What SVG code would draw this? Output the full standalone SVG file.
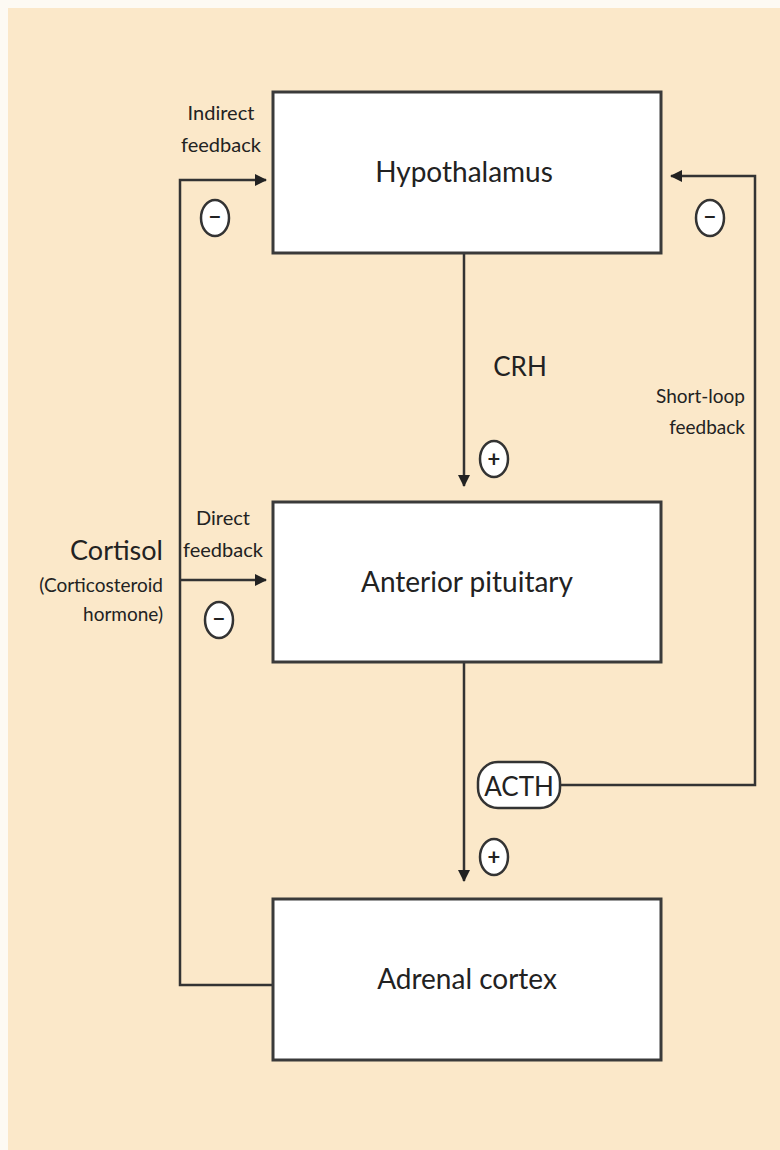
<svg xmlns="http://www.w3.org/2000/svg" width="780" height="1150" viewBox="0 0 780 1150">
<style>
text{font-family:Lato,"Liberation Sans",sans-serif;fill:#222}
.box{fill:#fff;stroke:#3a3a3a;stroke-width:3}
.ln{fill:none;stroke:#333;stroke-width:2.5}
.sig{fill:#fff;stroke:#333;stroke-width:2.5}
.lbl{font-size:28px;text-anchor:middle}
.sm{font-size:20px;text-anchor:middle}
.sign{font-size:22px;text-anchor:middle;font-weight:bold}
</style>
<defs>
<marker id="ah" markerWidth="12" markerHeight="12" refX="11" refY="6" orient="auto" markerUnits="userSpaceOnUse">
<path d="M0,0 L12,6 L0,12 z" fill="#222"/>
</marker>
</defs>
<rect x="0" y="0" width="780" height="1150" fill="#fdfaf3"/>
<rect x="8" y="8" width="772" height="1142" fill="#fbe8c9"/>
<g id="connectors">
<path class="ln" d="M273,985 H180 V180 H266" marker-end="url(#ah)"/>
<path class="ln" d="M180,580 H266" marker-end="url(#ah)"/>
<path class="ln" d="M464,254 V486" marker-end="url(#ah)"/>
<path class="ln" d="M464,663 V881" marker-end="url(#ah)"/>
<path class="ln" d="M560,785 H755 V176 H671" marker-end="url(#ah)"/>
</g>
<g id="hypothalamus"><rect class="box" x="273" y="92" width="388" height="161"/><text class="lbl" x="464" y="182">Hypothalamus</text></g>
<g id="anterior-pituitary"><rect class="box" x="273" y="502" width="388" height="160"/><text class="lbl" x="467" y="592">Anterior pituitary</text></g>
<g id="adrenal-cortex"><rect class="box" x="273" y="899" width="388" height="161"/><text class="lbl" x="467" y="989">Adrenal cortex</text></g>
<g id="acth"><rect class="sig" x="478" y="762" width="82" height="46" rx="20"/><text x="519" y="796" font-size="26" text-anchor="middle">ACTH</text></g>
<g id="crh"><text x="520" y="376" font-size="26" text-anchor="middle">CRH</text></g>
<g id="signs">
<ellipse class="sig" cx="215" cy="218" rx="14" ry="18"/><text class="sign" x="215" y="225">−</text>
<ellipse class="sig" cx="219" cy="620" rx="14" ry="18"/><text class="sign" x="219" y="627">−</text>
<ellipse class="sig" cx="710" cy="218" rx="14" ry="18"/><text class="sign" x="710" y="225">−</text>
<ellipse class="sig" cx="494" cy="459" rx="14" ry="18"/><text class="sign" x="494" y="467">+</text>
<ellipse class="sig" cx="494" cy="857" rx="14" ry="18"/><text class="sign" x="494" y="865">+</text>
</g>
<g id="labels">
<text class="sm" x="221" y="120">Indirect</text>
<text class="sm" x="221" y="152">feedback</text>
<text class="sm" x="223" y="525">Direct</text>
<text class="sm" x="223" y="557">feedback</text>
<text x="745" y="403" font-size="19" text-anchor="end">Short-loop</text>
<text x="745" y="434" font-size="19" text-anchor="end">feedback</text>
<text x="163" y="560" font-size="27" text-anchor="end">Cortisol</text>
<text x="163" y="592" font-size="19" text-anchor="end">(Corticosteroid</text>
<text x="163" y="621" font-size="19" text-anchor="end">hormone)</text>
</g>
</svg>
